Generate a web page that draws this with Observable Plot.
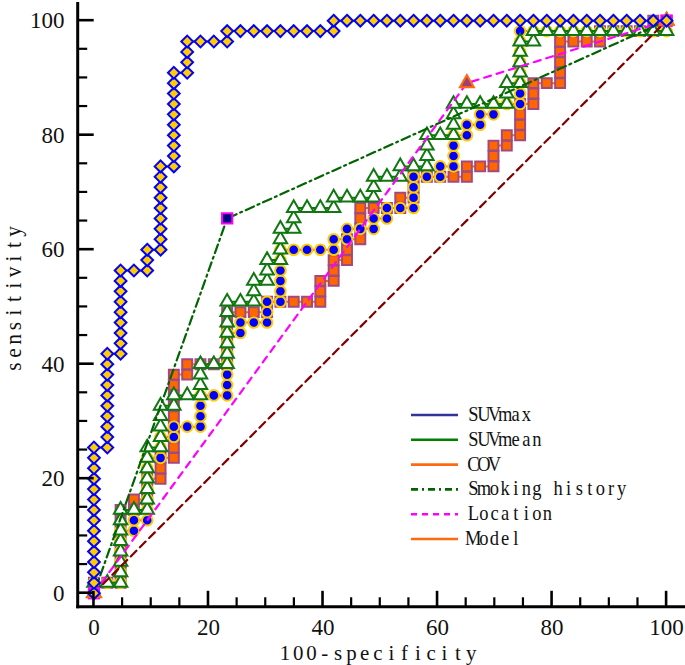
<!DOCTYPE html>
<html><head><meta charset="utf-8">
<script src="https://cdn.jsdelivr.net/npm/d3@7"></script>
<script src="https://cdn.jsdelivr.net/npm/@observablehq/plot@0.6"></script>
<style>
body{margin:0;background:#fff;}
#chart{position:relative;width:685px;height:665px;overflow:hidden;}
svg{overflow:visible;}
</style></head><body><div id="chart"></div>
<script>
// ---- data: [100-specificity, sensitivity] for every ROC operating point ----
const suvmaxPts = [
[0,0],[0,1.82],[0,3.64],[0,5.45],[0,7.27],[0,9.09],[0,10.91],[0,12.73],[0,14.55],[0,16.36],[0,18.18],[0,20],[0,21.82],[0,23.64],[0,25.45],
[2.33,25.45],[2.33,27.27],[2.33,29.09],[2.33,30.91],[2.33,32.73],[2.33,34.55],[2.33,36.36],[2.33,38.18],[2.33,40],[2.33,41.82],
[4.65,41.82],[4.65,43.64],[4.65,45.45],[4.65,47.27],[4.65,49.09],[4.65,50.91],[4.65,52.73],[4.65,54.55],[4.65,56.36],
[6.98,56.36],
[9.3,56.36],[9.3,58.18],[9.3,60],
[11.63,60],[11.63,61.82],[11.63,63.64],[11.63,65.45],[11.63,67.27],[11.63,69.09],[11.63,70.91],[11.63,72.73],[11.63,74.55],
[13.95,74.55],[13.95,76.36],[13.95,78.18],[13.95,80],[13.95,81.82],[13.95,83.64],[13.95,85.45],[13.95,87.27],[13.95,89.09],[13.95,90.91],
[16.28,90.91],[16.28,92.73],[16.28,94.55],[16.28,96.36],
[18.6,96.36],[20.93,96.36],[23.26,96.36],[23.26,98.18],
[25.58,98.18],[27.91,98.18],[30.23,98.18],[32.56,98.18],[34.88,98.18],[37.21,98.18],[39.53,98.18],[41.86,98.18],[41.86,100],
[44.19,100],[46.51,100],[48.84,100],[51.16,100],[53.49,100],[55.81,100],[58.14,100],[60.47,100],[62.79,100],[65.12,100],
[67.44,100],[69.77,100],[72.09,100],[74.42,100],[76.74,100],[79.07,100],[81.4,100],[83.72,100],[86.05,100],[88.37,100],
[90.7,100],[93.02,100],[95.35,100],[97.67,100],[100,100]
];
const suvmeanPts = [
[0,0],[0,1.82],
[2.33,1.82],
[4.65,1.82],[4.65,3.64],[4.65,5.45],[4.65,7.27],[4.65,9.09],[4.65,10.91],[4.65,12.73],[4.65,14.55],
[6.98,14.55],
[9.3,14.55],[9.3,16.36],[9.3,18.18],[9.3,20],[9.3,21.82],[9.3,23.64],[9.3,25.45],
[11.63,25.45],[11.63,27.27],[11.63,29.09],[11.63,30.91],[11.63,32.73],
[13.95,32.73],[13.95,34.55],
[16.28,34.55],
[18.6,34.55],[18.6,36.36],[18.6,38.18],[18.6,40],
[20.93,40],
[23.26,40],[23.26,41.82],[23.26,43.64],[23.26,45.45],[23.26,47.27],[23.26,49.09],[23.26,50.91],
[25.58,50.91],
[27.91,50.91],[27.91,52.73],[27.91,54.55],
[30.23,54.55],[30.23,56.36],[30.23,58.18],
[32.56,58.18],[32.56,60],[32.56,61.82],[32.56,63.64],
[34.88,63.64],[34.88,65.45],[34.88,67.27],
[37.21,67.27],[39.53,67.27],[41.86,67.27],[41.86,69.09],
[44.19,69.09],[46.51,69.09],[48.84,69.09],[48.84,70.91],[48.84,72.73],
[51.16,72.73],[53.49,72.73],[53.49,74.55],
[55.81,74.55],[58.14,74.55],[58.14,76.36],[58.14,78.18],[58.14,80],
[60.47,80],[62.79,80],[62.79,81.82],[62.79,83.64],[62.79,85.45],
[65.12,85.45],[67.44,85.45],[69.77,85.45],[72.09,85.45],[72.09,87.27],[72.09,89.09],
[74.42,89.09],[74.42,90.91],[74.42,92.73],[74.42,94.55],[74.42,96.36],
[76.74,96.36],[76.74,98.18],
[79.07,98.18],[81.4,98.18],[83.72,98.18],[86.05,98.18],[88.37,98.18],[90.7,98.18],[93.02,98.18],[95.35,98.18],
[97.67,98.18],[100,98.18],[100,100]
];
const covPts = [
[0,0],[0,1.82],
[2.33,1.82],
[4.65,1.82],[4.65,3.64],[4.65,5.45],[4.65,7.27],[4.65,9.09],[4.65,10.91],
[6.98,10.91],[6.98,12.73],
[9.3,12.73],[9.3,14.55],[9.3,16.36],[9.3,18.18],[9.3,20],[9.3,21.82],[9.3,23.64],
[11.63,23.64],[11.63,25.45],[11.63,27.27],
[13.95,27.27],[13.95,29.09],
[16.28,29.09],
[18.6,29.09],[18.6,30.91],[18.6,32.73],[18.6,34.55],
[20.93,34.55],
[23.26,34.55],[23.26,36.36],[23.26,38.18],[23.26,40],[23.26,41.82],[23.26,43.64],[23.26,45.45],
[25.58,45.45],[25.58,47.27],
[27.91,47.27],
[30.23,47.27],[30.23,49.09],[30.23,50.91],
[32.56,50.91],[32.56,52.73],[32.56,54.55],[32.56,56.36],[32.56,58.18],[32.56,60],
[34.88,60],[37.21,60],[39.53,60],
[41.86,60],[41.86,61.82],
[44.19,61.82],[44.19,63.64],
[46.51,63.64],
[48.84,63.64],[48.84,65.45],
[51.16,65.45],[51.16,67.27],
[53.49,67.27],
[55.81,67.27],[55.81,69.09],[55.81,70.91],[55.81,72.73],
[58.14,72.73],
[60.47,72.73],[60.47,74.55],
[62.79,74.55],[62.79,76.36],[62.79,78.18],[62.79,80],
[65.12,80],[65.12,81.82],
[67.44,81.82],[67.44,83.64],
[69.77,83.64],[69.77,85.45],
[72.09,85.45],
[74.42,85.45],[74.42,87.27],[74.42,89.09],[74.42,90.91],[74.42,92.73],[74.42,94.55],[74.42,96.36],[74.42,98.18],
[76.74,98.18],[79.07,98.18],[81.4,98.18],[83.72,98.18],[86.05,98.18],[88.37,98.18],[90.7,98.18],[93.02,98.18],
[95.35,98.18],[97.67,98.18],[100,98.18],[100,100]
];
const modelPts = [
[0,0],[0,1.82],
[2.33,1.82],
[4.65,1.82],[4.65,3.64],[4.65,5.45],[4.65,7.27],[4.65,9.09],[4.65,10.91],[4.65,12.73],[4.65,14.55],
[6.98,14.55],[6.98,16.36],
[9.3,16.36],[9.3,18.18],[9.3,20],
[11.63,20],[11.63,21.82],[11.63,23.64],
[13.95,23.64],[13.95,25.45],[13.95,27.27],[13.95,29.09],[13.95,30.91],[13.95,32.73],[13.95,34.55],[13.95,36.36],[13.95,38.18],
[16.28,38.18],[16.28,40],
[18.6,40],[20.93,40],
[23.26,40],[23.26,41.82],[23.26,43.64],[23.26,45.45],[23.26,47.27],[23.26,49.09],
[25.58,49.09],[27.91,49.09],
[30.23,49.09],[30.23,50.91],
[32.56,50.91],[34.88,50.91],[37.21,50.91],
[39.53,50.91],[39.53,52.73],[39.53,54.55],
[41.86,54.55],[41.86,56.36],[41.86,58.18],
[44.19,58.18],[44.19,60],[44.19,61.82],
[46.51,61.82],[46.51,63.64],[46.51,65.45],[46.51,67.27],
[48.84,67.27],[51.16,67.27],
[53.49,67.27],[53.49,69.09],
[55.81,69.09],[55.81,70.91],[55.81,72.73],
[58.14,72.73],[60.47,72.73],[62.79,72.73],
[65.12,72.73],[65.12,74.55],
[67.44,74.55],
[69.77,74.55],[69.77,76.36],[69.77,78.18],
[72.09,78.18],[72.09,80],
[74.42,80],[74.42,81.82],[74.42,83.64],[74.42,85.45],
[76.74,85.45],[76.74,87.27],[76.74,89.09],
[79.07,89.09],
[81.4,89.09],[81.4,90.91],[81.4,92.73],[81.4,94.55],[81.4,96.36],
[83.72,96.36],[86.05,96.36],
[88.37,96.36],[88.37,98.18],
[90.7,98.18],[93.02,98.18],[95.35,98.18],
[97.67,98.18],[97.67,100],
[100,100]
];
const smokingPts = [[0,0],[23.26,65.45],[100,100]];
const locationPts = [[0,0],[65.12,89.09],[100,100]];
const referencePts = [[0,0],[100,100]];

const legendLabels = ["SUVmax","SUVmean","COV","Smoking history","Location","Model"];
const xTickLabels = [0,20,40,60,80,100];
const yTickLabels = [0,20,40,60,80,100];
const minorTicks = [5,10,15,25,30,35,45,50,55,65,70,75,85,90,95];
const xTitle = "100-specificity";
const yTitle = "sensitivity";

// ---- styles ----
const C = {
  suvmaxLine:"#333399", diaFill:"#ffcc00", diaStroke:"#0000ff",
  suvmeanLine:"#008000", triStroke:"#117711",
  covLine:"#ff6a10", cirFill:"#0000ff", cirStroke:"#ffcc00",
  modelLine:"#ff6a10", sqFill:"#ff6600", sqStroke:"#a24a7e",
  smoking:"#006400", location:"#ff00ff", ref:"#800000"
};
const obj = pts => pts.map(([x,y]) => ({x, y}));

const chart = Plot.plot({
  width: 685, height: 665,
  marginLeft: 78, marginRight: 0, marginTop: 3, marginBottom: 58,
  x: {domain: [-2.7, 103.3], label: null},
  y: {domain: [-2.5, 103], label: null},
  style: {background: "#fff", color: "#111"},
  marks: [
    Plot.axisX(xTickLabels, {tickSize: 0, tickPadding: 11, fontSize: 23, fontFamily: "Liberation Serif", label: null, fill: "#111"}),
    Plot.axisY(yTickLabels, {tickSize: 0, tickPadding: 14, fontSize: 23, fontFamily: "Liberation Serif", label: null, fill: "#111"}),
    Plot.line(obj(modelPts), {x: "x", y: "y", stroke: C.modelLine, strokeWidth: 2}),
    Plot.dot(obj(modelPts), {x: "x", y: "y", symbol: "square", r: 5.6, fill: C.sqFill, stroke: C.sqStroke, strokeWidth: 2}),
    Plot.line(obj(covPts), {x: "x", y: "y", stroke: C.covLine, strokeWidth: 2}),
    Plot.dot(obj(covPts), {x: "x", y: "y", symbol: "circle", r: 5.3, fill: C.cirFill, stroke: C.cirStroke, strokeWidth: 2}),
    Plot.line(obj(suvmeanPts), {x: "x", y: "y", stroke: C.suvmeanLine, strokeWidth: 2}),
    Plot.dot(obj(suvmeanPts), {x: "x", y: "y", symbol: "triangle", r: 5, fill: "#fff", stroke: C.triStroke, strokeWidth: 2}),
    Plot.line(obj(referencePts), {x: "x", y: "y", stroke: C.ref, strokeWidth: 2.2, strokeDasharray: "8,5"}),
    Plot.line(obj(locationPts), {x: "x", y: "y", stroke: C.location, strokeWidth: 2.2, strokeDasharray: "7,6"}),
    Plot.line(obj(smokingPts), {x: "x", y: "y", stroke: C.smoking, strokeWidth: 2.2, strokeDasharray: "9,4,2,4"}),
    Plot.dot(obj(smokingPts), {x: "x", y: "y", symbol: "square", r: 5.8, fill: "#000080", stroke: C.location, strokeWidth: 2}),
    Plot.dot(obj(locationPts), {x: "x", y: "y", symbol: "triangle", r: 5.2, fill: "#a04070", stroke: "#ff6a10", strokeWidth: 2}),
    Plot.line(obj(suvmaxPts), {x: "x", y: "y", stroke: C.suvmaxLine, strokeWidth: 2}),
    Plot.dot(obj(suvmaxPts), {x: "x", y: "y", symbol: "diamond2", r: 5.3, fill: C.diaFill, stroke: C.diaStroke, strokeWidth: 2})
  ]
});
document.getElementById("chart").appendChild(chart);

// ---- axis lines, inward ticks, titles, legend ----
const svg = d3.select(chart);
const xs = chart.scale("x"), ys = chart.scale("y");
const axX = 77.7, axY = 606.8;
const ax = svg.append("g").attr("stroke", "#000").attr("stroke-linecap", "butt");
ax.append("line").attr("x1", axX).attr("x2", axX).attr("y1", 2).attr("y2", axY + 1.5).attr("stroke-width", 3);
ax.append("line").attr("x1", axX - 1.5).attr("x2", 685).attr("y1", axY).attr("y2", axY).attr("stroke-width", 3);
for (const v of xTickLabels) ax.append("line").attr("x1", xs.apply(v)).attr("x2", xs.apply(v)).attr("y1", axY).attr("y2", axY - 16).attr("stroke-width", 2.6);
for (const v of minorTicks) ax.append("line").attr("x1", xs.apply(v)).attr("x2", xs.apply(v)).attr("y1", axY).attr("y2", axY - 9.5).attr("stroke-width", 2.2);
for (const v of yTickLabels) ax.append("line").attr("y1", ys.apply(v)).attr("y2", ys.apply(v)).attr("x1", axX).attr("x2", axX + 16).attr("stroke-width", 2.6);
for (const v of minorTicks) ax.append("line").attr("y1", ys.apply(v)).attr("y2", ys.apply(v)).attr("x1", axX).attr("x2", axX + 9.5).attr("stroke-width", 2.2);

function monoText(parent, str, {x, y, cell, size, sx = 1, anchor = "start", rotate = 0}) {
  const total = str.length * cell;
  const start = anchor === "middle" ? -total / 2 : 0;
  const g = parent.append("g").attr("transform", `translate(${x},${y}) rotate(${rotate}) scale(${sx},1)`);
  g.append("text")
    .attr("x", Array.from(str, (c, i) => ((start + (i + 0.5) * cell) / sx).toFixed(2)).join(" "))
    .attr("y", 0)
    .attr("text-anchor", "middle")
    .attr("fill", "#111")
    .style("font-family", "'Liberation Serif'")
    .style("font-size", size + "px")
    .style("white-space", "pre")
    .text(str);
}
monoText(svg, xTitle, {x: 378, y: 660, cell: 13.3, size: 22, sx: 0.95, anchor: "middle"});
monoText(svg, yTitle, {x: 21, y: 299, cell: 13.5, size: 23, sx: 0.93, anchor: "middle", rotate: -90});

const legendStyles = [
  {stroke: C.suvmaxLine, dash: null},
  {stroke: C.suvmeanLine, dash: null},
  {stroke: C.covLine, dash: null},
  {stroke: C.smoking, dash: "7,4,2,4"},
  {stroke: C.location, dash: "6,5"},
  {stroke: C.modelLine, dash: null}
];
const lg = svg.append("g");
legendLabels.forEach((lab, i) => {
  const yy = 415 + i * 24.8;
  lg.append("line").attr("x1", 411).attr("x2", 458).attr("y1", yy).attr("y2", yy)
    .attr("stroke", legendStyles[i].stroke).attr("stroke-width", 2.6)
    .attr("stroke-dasharray", legendStyles[i].dash);
  monoText(lg, lab, {x: 468, y: yy + 6, cell: 10.6, size: 22, sx: 0.84});
});
</script>
</body></html>
